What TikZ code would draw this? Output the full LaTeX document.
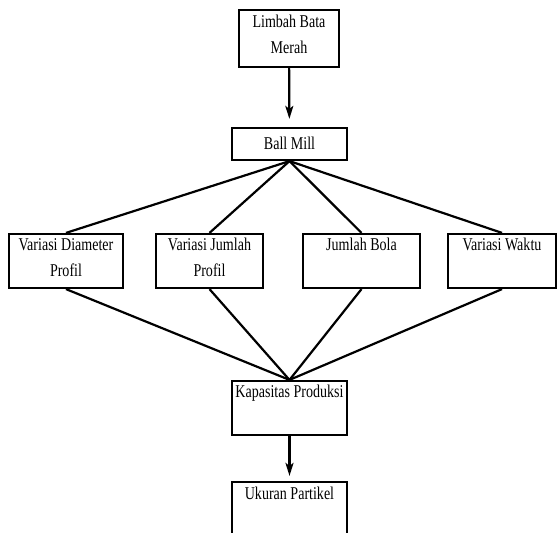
\documentclass[tikz,border=0pt]{standalone}
\usepackage{fontspec}
\setmainfont{Liberation Serif}[FakeStretch=0.78]
\usetikzlibrary{arrows.meta}
\tikzset {>={Stealth[length=13pt,width=8pt,inset=3pt]}}
\tikzset{box/.style={draw,line width=2.2pt,inner sep=.8pt,align=center,
  font=\fontsize{18}{26}\selectfont,
  execute at begin node=\strut,execute at end node=\strut}}

\begin{document}
\begin{tikzpicture}[x=1pt,y=-1pt,line width=2.2pt]
\useasboundingbox (0,0) rectangle (558,533);
\node[box,minimum width=100pt,minimum height=57pt] (limbah) at (289,38.5) {Limbah Bata\\Merah};
\node[box,minimum width=115pt,minimum height=32pt] (ball) at (289.5,144) {Ball Mill};
\foreach \n/\x/\w/\txt in {diam/66/114/{Variasi Diameter\\Profil},
    jumlah/209.5/107/{Variasi Jumlah\\Profil},
    bola/361.5/117/{Jumlah Bola\\},
    waktu/502/108/{Variasi Waktu\\}}
  \node[box,minimum width=\w pt,minimum height=54pt] (\n) at (\x,261) {\txt};
\node[box,minimum width=115pt,minimum height=54pt] (kap) at (289.5,408) {Kapasitas Produksi\\};
\node[box,minimum width=115pt,minimum height=56pt] (ukuran) at (289.5,510) {Ukuran Partikel\\};
\draw[->,shorten >=8pt] (limbah) -- (ball);
\foreach \n in {diam,jumlah,bola,waktu} {
  \draw (ball.south) -- (\n.north);
  \draw (\n.south) -- (kap.north);
}
\draw[->,shorten >=5pt] (kap) -- (ukuran);
\end{tikzpicture}
\end{document}
